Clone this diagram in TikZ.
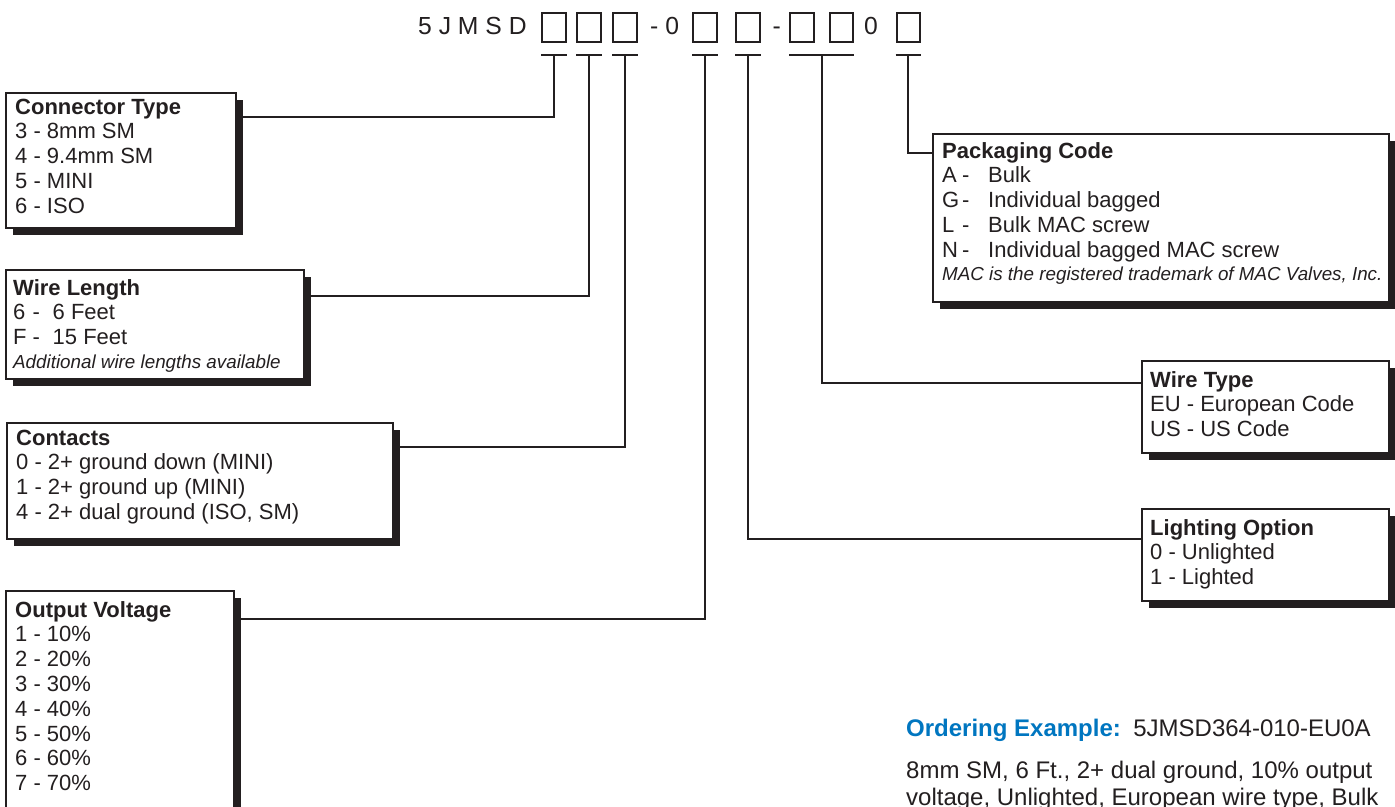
\documentclass[tikz,border=0pt]{standalone}
\usepackage{fontspec}
\setmainfont{Liberation Sans}
\usetikzlibrary{calc,shadows}
\definecolor{ink}{HTML}{231F20}
\definecolor{oblue}{RGB}{0,118,192}
\begin{document}
\begin{tikzpicture}[x=1pt,y=-1pt,
  box/.style={draw=ink, line width=1.5pt, fill=white, inner sep=0pt, anchor=north west,
    drop shadow={shadow xshift=7pt, shadow yshift=-7pt, fill=ink, opacity=1}},
  sq/.style={draw=ink, line width=2pt, inner sep=0pt, minimum width=23.5pt, minimum height=28.5pt, anchor=north west},
  conn/.style={draw=ink, line width=2pt},
  lbl/.style={inner sep=0pt, anchor=base west, text=ink, align=left, font=\fontsize{22}{24.8}\selectfont},
  note/.style={inner sep=0pt, anchor=base west, text=ink, font=\fontsize{18.8}{22}\selectfont\itshape},
  codetxt/.style={inner sep=0pt, anchor=base west, text=ink, font=\fontsize{24.7}{28}\selectfont},
  ex/.style={inner sep=0pt, anchor=base west, text=ink, font=\fontsize{24}{28}\selectfont},
]
\path[use as bounding box] (0,0) rectangle (1395,806);
\clip (0,0) rectangle (1395,806);
\fill[white] (0,0) rectangle (1395,806);

% part number header
\node[codetxt] (pn) at (418,34.5) {5 J M S D};
\node[sq] (s1) at (541,12) {};
\node[sq] (s2) at (576,12) {};
\node[sq] (s3) at (612,12) {};
\node[codetxt] (d1) at (650,34.5) {- 0};
\node[sq] (s4) at (692,12) {};
\node[sq] (s5) at (735,12) {};
\node[codetxt] (d2) at (772.5,34.5) {-};
\node[sq] (s6) at (789,12) {};
\node[sq] (s7) at (828.5,12) {};
\node[codetxt] (z1) at (864,34.5) {0};
\node[sq] (s8) at (895.5,12) {};

% T bars
\foreach \s in {s1,s2,s3,s4,s5,s8}
  \draw[conn] ([yshift=-12pt]\s.south west) -- ([yshift=-12pt]\s.south east);
\draw[conn] ([yshift=-12pt]s6.south west) -- ([yshift=-12pt]s7.south east);
\coordinate (s67) at ($(s6.south)!0.5!(s7.south)$);

% boxes
\node[box, minimum width=230pt, minimum height=135pt] (ct) at (5,92) {};
\node[box, minimum width=298pt, minimum height=109pt] (wl) at (5,269) {};
\node[box, minimum width=386pt, minimum height=116pt] (co) at (6,422) {};
\node[box, minimum width=228pt, minimum height=260pt] (ov) at (5,590) {};
\node[box, minimum width=456pt, minimum height=168pt] (pc) at (932,133) {};
\node[box, minimum width=247pt, minimum height=92pt] (wt) at (1141,360) {};
\node[box, minimum width=247pt, minimum height=92pt] (lo) at (1141,508) {};

% connectors
\draw[conn] ([yshift=-12pt]s1.south) |- ([yshift=-25pt]ct.north east);
\draw[conn] ([yshift=-12pt]s2.south) |- ([yshift=-27pt]wl.north east);
\draw[conn] ([yshift=-12pt]s3.south) |- ([yshift=-25pt]co.north east);
\draw[conn] ([yshift=-12pt]s4.south) |- ([yshift=-29pt]ov.north east);
\draw[conn] ([yshift=-12pt]s5.south) |- ([yshift=-31pt]lo.north west);
\draw[conn] ([yshift=-12pt]s67) |- ([yshift=-23pt]wt.north west);
\draw[conn] ([yshift=-12pt]s8.south) |- ([yshift=-20pt]pc.north west);

% box texts (anchor = baseline of the last line)
\node[lbl] (ctt) at (15,213.2) {\textbf{Connector Type}\\3 - 8mm SM\\4 - 9.4mm SM\\5 - MINI\\6 - ISO};
\node[lbl] (wlt) at (13,344.6) {\textbf{Wire Length}\\\makebox[19.5pt][l]{6}\makebox[20pt][l]{-}6 Feet\\\makebox[19.5pt][l]{F}\makebox[20pt][l]{-}15 Feet};
\node[note] (wln) at (13,368) {Additional wire lengths available};
\node[lbl] (cot) at (16,519.4) {\textbf{Contacts}\\0 - 2+ ground down (MINI)\\1 - 2+ ground up (MINI)\\4 - 2+ dual ground (ISO, SM)};
\node[lbl] (ovt) at (15,790.6) {\textbf{Output Voltage}\\1 - 10\%\\2 - 20\%\\3 - 30\%\\4 - 40\%\\5 - 50\%\\6 - 60\%\\7 - 70\%};
\node[lbl] (pct) at (942,257.2) {\textbf{Packaging Code}\\\makebox[20pt][l]{A}\makebox[26pt][l]{-}Bulk\\\makebox[20pt][l]{G}\makebox[26pt][l]{-}Individual bagged\\\makebox[20pt][l]{L}\makebox[26pt][l]{-}Bulk MAC screw\\\makebox[20pt][l]{N}\makebox[26pt][l]{-}Individual bagged MAC screw};
\node[note] (pcn) at (942,280) {MAC is the registered trademark of MAC Valves, Inc.};
\node[lbl] (wtt) at (1150,436.6) {\textbf{Wire Type}\\EU - European Code\\US - US Code};
\node[lbl] (lot) at (1150,584.6) {\textbf{Lighting Option}\\0 - Unlighted\\1 - Lighted};

% ordering example
\node[ex, text=oblue, font=\fontsize{24}{28}\selectfont\bfseries] (oe) at (906,736) {Ordering Example:};
\node[ex] (oc) at ([xshift=12pt]oe.base east) {5JMSD364-010-EU0A};
\node[ex] (ob1) at (906,778) {8mm SM, 6 Ft., 2+ dual ground, 10\% output};
\node[ex] (ob2) at (906,805) {voltage, Unlighted, European wire type, Bulk};
\end{tikzpicture}
\end{document}
